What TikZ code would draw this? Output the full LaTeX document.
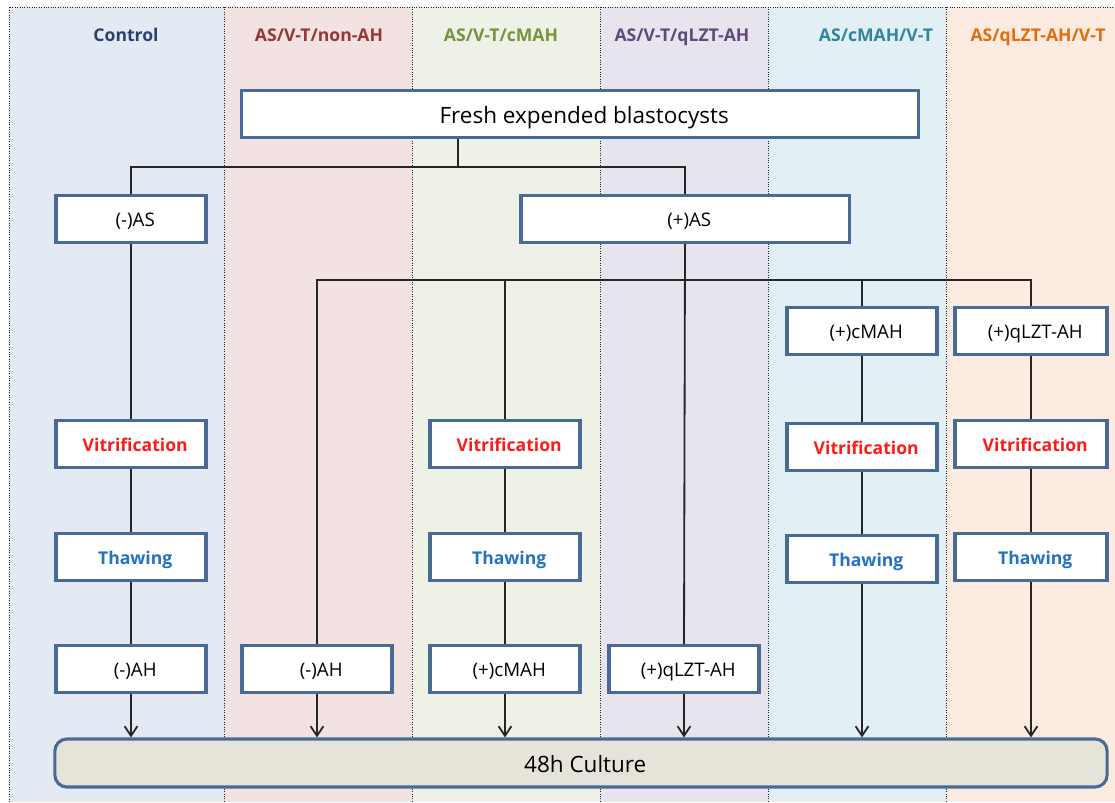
\documentclass[tikz,border=0pt]{standalone}
\usepackage{fontspec}
\setmainfont{Open Sans}
\usetikzlibrary{arrows.meta}
\usetikzlibrary{positioning}
\definecolor{bgcontrol}{HTML}{E3EAF3}
\definecolor{bgnonah}{HTML}{F3E2E2}
\definecolor{bgcmah}{HTML}{EDF1E6}
\definecolor{bgqlzt}{HTML}{E7E4EE}
\definecolor{bgcmahvt}{HTML}{E2EFF5}
\definecolor{bgqlztvt}{HTML}{FBEBE1}
\definecolor{hdcontrol}{HTML}{2F3F6B}
\definecolor{hdnonah}{HTML}{953735}
\definecolor{hdcmah}{HTML}{77933C}
\definecolor{hdqlzt}{HTML}{604A7B}
\definecolor{hdcmahvt}{HTML}{31859C}
\definecolor{hdqlztvt}{HTML}{E46C0A}
\definecolor{boxline}{HTML}{4A6A96}
\definecolor{culturefill}{HTML}{E6E3D8}
\definecolor{vitred}{HTML}{FF1A1A}
\definecolor{thawblue}{HTML}{2373C0}
\tikzset{
  stepbox/.style = {draw = boxline, line width = 2.2pt, fill = white,
                    minimum width = 3.75cm, minimum height = 1.17cm,
                    inner sep = 0, text height = 12pt, text depth = 1pt,
                    execute at begin node = \hspace*{6pt},
                    font = \fontsize{13.3}{15}\selectfont},
  vitbox/.style = {stepbox, text = vitred, font = \fontsize{12.5}{14}\selectfont\bfseries},
  thawbox/.style = {stepbox, text = thawblue, font = \fontsize{12.5}{14}\selectfont\bfseries},
  header/.style = {anchor = base, font = \fontsize{12.5}{14}\selectfont\bfseries},
  sep/.style = {densely dotted, line width = 0.7pt, black!85},
  link/.style = {line width = 1.3pt, black!85},
  arr/.style = {link, -{Straight Barb[length = 2.4mm, width = 3.2mm]}}
}

\begin{document}
\begin{tikzpicture}[x = 0.025cm, y = -0.025cm]
  \useasboundingbox (0, 0) rectangle (1115, 802);

  % column backgrounds
  \fill [bgcontrol] (9, 7) rectangle (224, 802);
  \fill [bgnonah] (224, 7) rectangle (412, 802);
  \fill [bgcmah] (412, 7) rectangle (600, 802);
  \fill [bgqlzt] (600, 7) rectangle (768, 802);
  \fill [bgcmahvt] (768, 7) rectangle (946, 802);
  \fill [bgqlztvt] (946, 7) rectangle (1115, 802);
  \draw [sep] (9, 802) -- (9, 7) -- (1115, 7);
  \foreach \x in {224, 412, 600, 768, 946}
    \draw [sep] (\x, 7) -- (\x, 802);

  % headers
  \node [header, text = hdcontrol] (hcontrol) at (126, 41) {Control};
  \node [header, text = hdnonah] (hnonah) at (319, 41) {AS/V-T/non-AH};
  \node [header, text = hdcmah] (hcmah) at (501, 41) {AS/V-T/cMAH};
  \node [header, text = hdqlzt] (hqlzt) at (682, 41) {AS/V-T/qLZT-AH};
  \node [header, text = hdcmahvt] (hcmahvt) at (876, 41) {AS/cMAH/V-T};
  \node [header, text = hdqlztvt] (hqlztvt) at (1038, 41) {AS/qLZT-AH/V-T};

  % boxes
  \node [stepbox, minimum width = 16.9cm, font = \fontsize{16}{18}\selectfont,
         text height = 14pt] (fresh) at (580, 114) {Fresh expended blastocysts};
  \node [stepbox] (minusas) at (131, 219) {(-)AS};
  \node [stepbox, minimum width = 8.2cm] (plusas) at (685, 219) {(+)AS};

  \node [vitbox] (vitone) at (131, 444) {Vitrification};
  \node [thawbox] (thawone) at (131, 557) {Thawing};
  \node [stepbox] (ahone) at (131, 669) {(-)AH};

  \node [stepbox] (ahtwo) at (317, 669) {(-)AH};

  \node [vitbox] (vitthree) at (505, 444) {Vitrification};
  \node [thawbox] (thawthree) at (505, 557) {Thawing};
  \node [stepbox] (cmahthree) at (505, 669) {(+)cMAH};

  \node [stepbox] (qlztfour) at (684, 669) {(+)qLZT-AH};

  \node [stepbox] (cmahfive) at (862, 331) {(+)cMAH};
  \node [vitbox] (vitfive) at (862, 447) {Vitrification};
  \node [thawbox] (thawfive) at (862, 559) {Thawing};

  \node [stepbox, minimum width = 3.8cm] (qlztsix) at (1031, 331) {(+)qLZT-AH};
  \node [vitbox, minimum width = 3.8cm] (vitsix) at (1031, 444) {Vitrification};
  \node [thawbox, minimum width = 3.8cm] (thawsix) at (1031, 557) {Thawing};

  \node [stepbox, rounded corners = 0.3cm, fill = culturefill, minimum width = 26.3cm,
         minimum height = 1.2cm, font = \fontsize{16}{18}\selectfont,
         text height = 14pt] (culture) at (581, 763) {48h Culture};

  % first split
  \coordinate (splitone) at (458, 167);
  \draw [link] (fresh.south -| splitone) -- (splitone);
  \draw [link] (minusas.north) |- (splitone) -| (plusas.north);

  % second split
  \coordinate (splittwo) at (685, 280);
  \draw [link] (plusas.south) -- (qlztfour.north);
  \draw [link] (ahtwo.north) |- (splittwo) -| (qlztsix.north);
  \draw [link] (vitthree.north) -- (vitthree.north |- splittwo);
  \draw [link] (cmahfive.north) -- (cmahfive.north |- splittwo);

  % columns
  \draw [link] (minusas) -- (vitone);
  \draw [link] (vitone) -- (thawone);
  \draw [link] (thawone) -- (ahone);
  \draw [link] (vitthree) -- (thawthree);
  \draw [link] (thawthree) -- (cmahthree);
  \draw [link] (cmahfive) -- (vitfive);
  \draw [link] (vitfive) -- (thawfive);
  \draw [link] (qlztsix) -- (vitsix);
  \draw [link] (vitsix) -- (thawsix);

  % into culture
  \foreach \n in {ahone, ahtwo, cmahthree, qlztfour, thawfive, thawsix}
    \draw [arr] (\n.south) -- (\n.south |- culture.north);
\end{tikzpicture}
\end{document}
